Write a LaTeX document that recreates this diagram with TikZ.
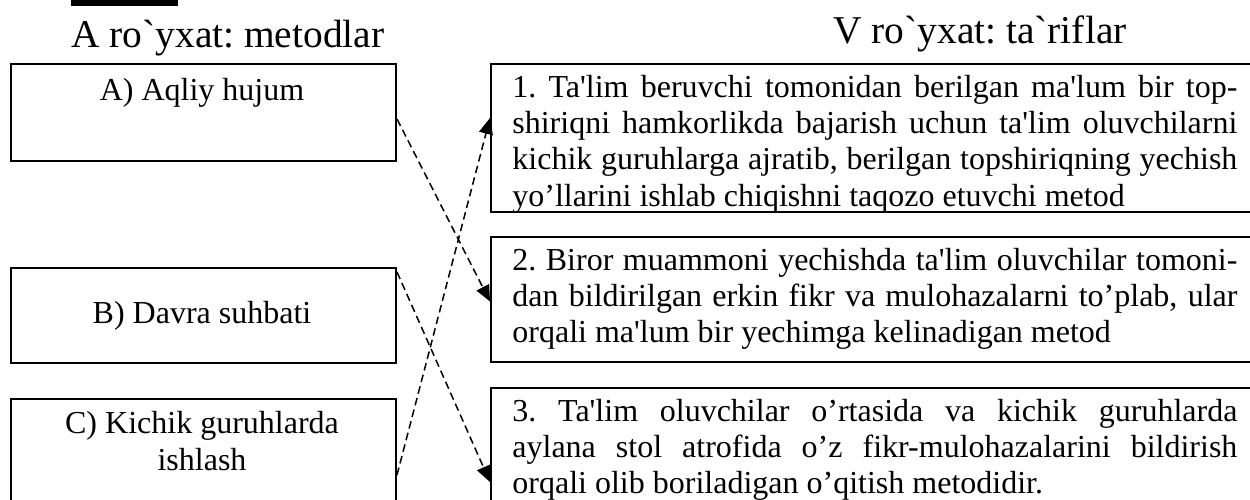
\documentclass[tikz,border=0pt]{standalone}
\usepackage{fontspec}
\setmainfont{Liberation Serif}[Ligatures=TeXOff]
\usetikzlibrary{arrows.meta}

\tikzset{
    metbox/.style = {draw, line width = 1pt, inner sep = 0pt, minimum width = 192.5pt, anchor = north west},
    defbox/.style = {draw, line width = 1pt, inner sep = 0pt, minimum width = 385pt, anchor = north west},
    deftext/.style = {anchor = base west, inner sep = 0pt, text width = 362.5pt, align = justify},
    heading/.style = {anchor = base west, inner sep = 0pt, font = \fontsize{19.7}{24}\selectfont},
    match/.style = {line width = 0.75pt, dash pattern = on 3.8pt off 2.2pt, -{Triangle[length = 8pt, width = 7pt]}}
}

\begin{document}
\frenchspacing
\begin{tikzpicture}[x = 0.5pt, y = -0.5pt, font = \fontsize{16}{18.2}\selectfont]
    \useasboundingbox (0, 0) rectangle (1250, 499);
    \clip (0, 0) rectangle (1250, 499);
    % headings
    \fill (71, -2) rectangle (178, 5.5);
    \node[heading] (hA) at (71, 47) {A ro`yxat: metodlar};
    \node[heading] (hV) at (833, 43) {V ro`yxat: ta`riflar};
    % left column: methods
    \node[metbox, minimum height = 48.5pt] (mA) at (10, 63) {};
    \node[metbox, minimum height = 47.5pt] (mB) at (10, 267) {};
    \node[metbox, minimum height = 62pt] (mC) at (10, 398) {};
    \node[anchor = base, inner sep = 0pt] (tA) at (202, 100) {A) Aqliy hujum};
    \node[anchor = base, inner sep = 0pt] (tB) at (202, 323) {B) Davra suhbati};
    \node[anchor = base, inner sep = 0pt, align = center] (tC) at (202, 470) {C) Kichik guruhlarda\\ishlash};
    % right column: definitions
    \node[defbox, minimum height = 74pt] (d1) at (490, 63) {};
    \node[defbox, minimum height = 62.5pt] (d2) at (490, 236) {};
    \node[defbox, minimum height = 67pt] (d3) at (490, 387) {};
    \node[deftext] (s1) at (512, 97) {1. Ta'lim beruvchi tomonidan berilgan ma'lum bir top-\linebreak
        shiriqni hamkorlikda bajarish uchun ta'lim oluvchilarni\linebreak
        kichik guruhlarga ajratib, berilgan topshiriqning yechish\linebreak
        yo’llarini ishlab chiqishni taqozo etuvchi metod};
    \node[deftext] (s2) at (512, 270) {2. Biror muammoni yechishda ta'lim oluvchilar tomoni-\linebreak
        dan bildirilgan erkin fikr va mulohazalarni to’plab, ular\linebreak
        orqali ma'lum bir yechimga kelinadigan metod};
    \node[deftext] (s3) at (512, 421) {3. Ta'lim oluvchilar o’rtasida va kichik guruhlarda\linebreak
        aylana stol atrofida o’z fikr-mulohazalarini bildirish\linebreak
        orqali olib boriladigan o’qitish metodidir.};
    % matching lines
    \draw[match] ([yshift = -28pt]mA.north east) -- ([yshift = -1pt]d2.west);
    \draw[match] ([yshift = -2.5pt]mB.north east) -- ([yshift = -47.5pt]d3.north west);
    \draw[match] ([yshift = -38.5pt]mC.north east) -- ([yshift = -27.5pt]d1.north west);
\end{tikzpicture}
\end{document}
